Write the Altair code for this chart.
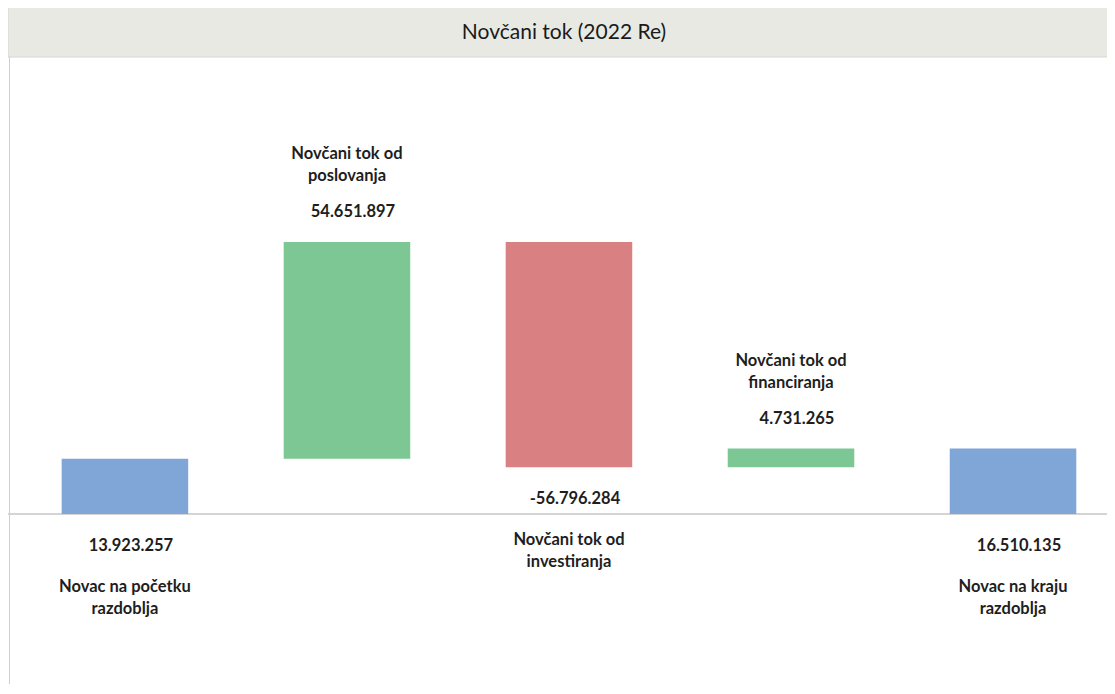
import altair as alt
import pandas as pd

categories = ["Novac na početku\nrazdoblja", "Novčani tok od\nposlovanja", "Novčani tok od\ninvestiranja",
              "Novčani tok od\nfinanciranja", "Novac na kraju\nrazdoblja"]
values = [13923257, 54651897, -56796284, 4731265, 16510135]
value_labels = ["13.923.257", "54.651.897", "-56.796.284", "4.731.265", "16.510.135"]
kinds = ["total", "up", "down", "up", "total"]

colors = {"total": "#80a6d7", "up": "#7dc795", "down": "#d98182"}

rows = []
running = 0
for i, (c, v, lab, k) in enumerate(zip(categories, values, value_labels, kinds)):
    if k == "total":
        start, end = 0, v
        running = v
        anchor, side = 0, "below"
    else:
        start, end = running, running + v
        running = end
        anchor, side = end, ("above" if v >= 0 else "below")
    rows.append(dict(order=i, cat=c, start=start, end=end, label=lab, kind=k,
                     anchor=anchor, side=side, color=colors[k]))
df = pd.DataFrame(rows)

W, H = 1099, 676
FONT = "Lato"

xscale = alt.Scale(paddingInner=0.43, paddingOuter=0.19, align=0.636)
xenc = alt.X("order:O", axis=None, scale=xscale)
yscale = alt.Scale(domain=[-42.86e6, 127.58e6], nice=False, zero=False)

base = alt.Chart(df)

bars = base.mark_bar().encode(
    x=xenc,
    y=alt.Y("start:Q", scale=yscale, axis=None),
    y2="end:Q",
    color=alt.Color("color:N", scale=None),
)

zero_df = pd.DataFrame({"zero": [0]})
baseline = alt.Chart(zero_df).mark_rule(color="#d4d4d4", strokeWidth=2, clip=False).encode(
    y=alt.Y("zero:Q", scale=yscale, axis=None),
    x=alt.value(0), x2=alt.value(W + 10),
)

left_border = alt.Chart(zero_df).mark_rule(color="#cfcfcf", strokeWidth=1).encode(
    x=alt.value(1.5), y=alt.value(49), y2=alt.value(H)
)

txt_kw = dict(font=FONT, fontWeight="bold", fontSize=16.5, color="#1e1e1e", align="center",
              baseline="middle", lineHeight=22)

above = base.transform_filter("datum.side == 'above'")
below = base.transform_filter("datum.side == 'below'")

val_above = above.mark_text(dy=-30, dx=6, **txt_kw).encode(
    x=xenc, y=alt.Y("anchor:Q", scale=yscale), text="label:N")
cat_above = above.mark_text(dy=-88, lineBreak="\n", **txt_kw).encode(
    x=xenc, y=alt.Y("anchor:Q", scale=yscale), text="cat:N")
val_below = below.mark_text(dy=32, dx=6, **txt_kw).encode(
    x=xenc, y=alt.Y("anchor:Q", scale=yscale), text="label:N")
cat_below = below.mark_text(dy=73, lineBreak="\n", **txt_kw).encode(
    x=xenc, y=alt.Y("anchor:Q", scale=yscale), text="cat:N")

title_df = pd.DataFrame({"t": ["Novčani tok (2022 Re)"]})
title_bar = alt.Chart(title_df).mark_rect(color="#e9e9e4", stroke="#d6d6d2", strokeWidth=1).encode(
    x=alt.value(0), x2=alt.value(W + 10), y=alt.value(-1), y2=alt.value(49)
)
title_txt = alt.Chart(title_df).mark_text(font=FONT, fontSize=21, color="#1a1a1a", align="center",
                                          baseline="middle").encode(
    x=alt.value(556), y=alt.value(25), text="t:N"
)

chart = alt.layer(title_bar, left_border, baseline, bars, val_above, cat_above, val_below, cat_below,
                  title_txt).properties(
    width=W, height=H, autosize=alt.AutoSizeParams(type="none"), padding=0, background="white"
).configure_view(strokeWidth=0)

chart.save("out.html", embed_options={"renderer": "svg", "actions": False})
